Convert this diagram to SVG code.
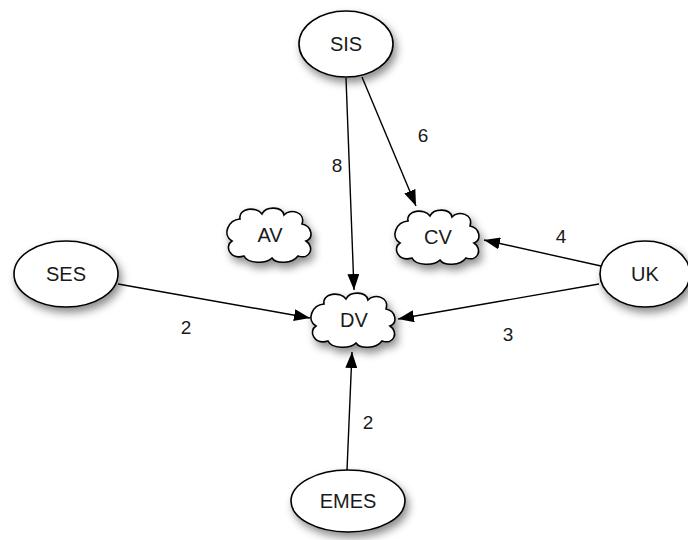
<svg xmlns="http://www.w3.org/2000/svg" width="688" height="540" viewBox="0 0 688 540">
<style>
.shape{fill:#fff;stroke:#000;stroke-width:1.6;filter:url(#sh)}
.lbl{font-family:"Liberation Sans",Arial,sans-serif;font-size:20px;fill:#1a1a1a;text-anchor:middle;dominant-baseline:central}
.el{font-family:"Liberation Sans",Arial,sans-serif;font-size:19px;fill:#1a1a1a;text-anchor:middle;dominant-baseline:central}
.edge{stroke:#000;stroke-width:1.4;fill:none;marker-end:url(#arr)}
</style>
<defs>
<filter id="sh" x="-40%" y="-40%" width="190%" height="200%">
<feDropShadow dx="3" dy="5" stdDeviation="4.5" flood-color="#000" flood-opacity="0.45"/>
</filter>
<marker id="arr" viewBox="0 0 16 12" refX="16" refY="6" markerWidth="16" markerHeight="12" markerUnits="userSpaceOnUse" orient="auto">
<path d="M0,0 L16,6 L0,12 Z" fill="#000"/>
</marker>
<path id="cloud" d="M -30,-16 C -32,-27 -14,-29 -8,-21 C -4,-29 12,-29 14,-20 C 20,-27 36,-23 32,-11 C 42,-9 44,3 36,6 C 45,12 40,25 28,21 C 22,29 6,29 2,23 C -4,29 -22,29 -26,21 C -40,25 -46,11 -38,6 C -48,0 -42,-15 -30,-16 Z"/>
</defs>
<g id="connectors">
<path class="edge" d="M346,78 L354,290"/>
<path class="edge" d="M362,77 L416,206"/>
<path class="edge" d="M601,266 L484,240"/>
<path class="edge" d="M599,284 L398,319"/>
<path class="edge" d="M118,284 L310,318"/>
<path class="edge" d="M347,470 L352,352"/>
<text class="el" x="337" y="165">8</text>
<text class="el" x="423" y="135">6</text>
<text class="el" x="561" y="236">4</text>
<text class="el" x="508" y="334">3</text>
<text class="el" x="186" y="327">2</text>
<text class="el" x="368" y="422">2</text>
</g>
<g id="SIS"><ellipse class="shape" cx="346" cy="44" rx="47" ry="33"/><text class="lbl" x="346" y="44">SIS</text></g>
<g id="SES"><ellipse class="shape" cx="66" cy="274" rx="52" ry="33"/><text class="lbl" x="66" y="274">SES</text></g>
<g id="UK"><ellipse class="shape" cx="645" cy="274" rx="45" ry="33"/><text class="lbl" x="645" y="274">UK</text></g>
<g id="EMES"><ellipse class="shape" cx="348" cy="501" rx="57" ry="31"/><text class="lbl" x="348" y="501">EMES</text></g>
<g id="AV"><use href="#cloud" class="shape" transform="translate(270,235)"/><text class="lbl" x="270" y="235">AV</text></g>
<g id="CV"><use href="#cloud" class="shape" transform="translate(438,237)"/><text class="lbl" x="438" y="237">CV</text></g>
<g id="DV"><use href="#cloud" class="shape" transform="translate(354,320)"/><text class="lbl" x="354" y="320">DV</text></g>
</svg>
